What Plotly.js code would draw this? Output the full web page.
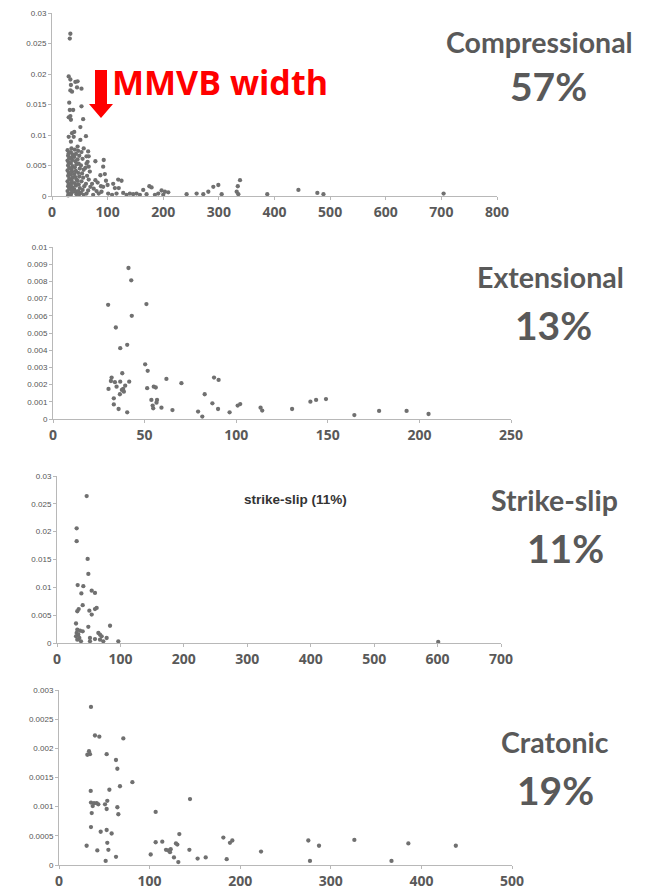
<!DOCTYPE html>
<html>
<head>
<meta charset="utf-8">
<script src="https://cdn.plot.ly/plotly-3.0.1.min.js"></script>
<style>
html,body{margin:0;padding:0;background:#fff;}
#chart{width:648px;height:889px;}
</style>
</head>
<body>
<div id="chart"></div>
<script>
// ---------- DATA ----------
// Compressional (57%)
const compX = [33,32,30,33,42,46,34,45,53,33,36,31,53,32,38,33,30,34,56,51,40,36,30,39,61,51,34,46,
  28,30,29,31,28,30,29,31,28,30,29,31,28,30,29,31,28,30,29,
  35,34,37,35,36,34,37,35,36,34,37,35,36,34,37,35,36,34,
  41,43,40,42,44,41,43,40,42,44,41,43,40,42,44,
  47,49,46,48,50,47,49,46,48,50,47,49,
  53,55,52,57,54,56,53,58,55,52,57,
  62,64,60,68,63,66,61,69,65,62,
  57,65,66,78,93,62,66,87,95,78,72,75,80,84,74,88,82,
  92,97,100,92,110,119,125,113,89,101,116,128,140,152,164,175,179,191,197,203,209,242,260,272,281,290,299,305,334,338,332,335,
  120,108,134,146,158,170,185,200,
  387,443,477,488,704];
const compY = [0.0266,0.0258,0.0196,0.0191,0.0187,0.0188,0.0182,0.0178,0.0176,0.0173,0.0171,0.0153,0.0147,0.0141,0.0141,0.0131,0.0129,0.0125,0.0126,0.0113,0.0105,0.0103,0.0097,0.0097,0.0098,0.0092,0.0089,0.0081,
  0.0075,0.0070,0.0066,0.0062,0.0058,0.0055,0.0050,0.0046,0.0042,0.0038,0.0033,0.0028,0.0024,0.0020,0.0016,0.0012,0.0008,0.0004,0.0001,
  0.0078,0.0072,0.0068,0.0063,0.0059,0.0054,0.0049,0.0044,0.0040,0.0035,0.0030,0.0026,0.0022,0.0018,0.0014,0.0010,0.0006,0.0002,
  0.0076,0.0069,0.0064,0.0057,0.0052,0.0047,0.0041,0.0036,0.0031,0.0027,0.0021,0.0017,0.0011,0.0007,0.0003,
  0.0074,0.0066,0.0060,0.0053,0.0045,0.0038,0.0032,0.0025,0.0019,0.0013,0.0008,0.0003,
  0.0072,0.0061,0.0050,0.0043,0.0037,0.0030,0.0024,0.0016,0.0010,0.0005,0.0002,
  0.0065,0.0056,0.0046,0.0040,0.0033,0.0027,0.0020,0.0015,0.0009,0.0004,
  0.0078,0.0073,0.0065,0.0057,0.0059,0.0053,0.0048,0.0034,0.0036,0.0026,0.0020,0.0012,0.0008,0.0004,0.0002,0.0016,0.0022,
  0.0048,0.0025,0.0018,0.0015,0.0020,0.0027,0.0025,0.0013,0.0007,0.0004,0.0004,0.0005,0.0004,0.0004,0.0010,0.0016,0.0014,0.0004,0.0009,0.0007,0.0006,0.0003,0.0004,0.0003,0.0007,0.0015,0.0018,0.0003,0.0016,0.0026,0.0007,0.0003,
  0.0013,0.0002,0.0002,0.0003,0.0002,0.0003,0.0002,0.0002,
  0.0003,0.0010,0.0005,0.0003,0.0004];

// Extensional (13%)
const extX = [30.1,41.2,42.7,43.0,34.3,51.0,40.5,36.7,50.3,51.7,37.8,32,31.6,33.8,36.7,41.6,30.3,34.7,37.6,38.7,36.5,38.3,39.4,33.2,33.2,35.8,40.5,
  51.4,55,56.1,61.9,70.1,53.7,56.8,56.5,54.4,54.7,59.2,65.2,79.2,81.5,82.8,87,87.9,90.4,90.1,96.4,100.8,102.2,113.3,114.2,130.5,140.5,143.6,149,164.5,178,193,205];
const extY = [0.00664,0.00878,0.00806,0.0060,0.00532,0.00668,0.00431,0.00412,0.00318,0.0028,0.00266,0.00241,0.00221,0.00214,0.00217,0.00217,0.00175,0.00188,0.00169,0.00159,0.00144,0.00175,0.00194,0.0012,0.00085,0.00058,0.00039,
  0.00179,0.00188,0.00183,0.00233,0.00208,0.00111,0.00111,0.00095,0.00078,0.00062,0.00066,0.00052,0.00043,0.00014,0.00144,0.00091,0.00241,0.00227,0.00058,0.00039,0.00078,0.00087,0.00066,0.00049,0.00058,0.00101,0.00111,0.00116,0.00023,0.00047,0.00047,0.00029];

// Strike-slip (11%)
const ssX = [46.8,31,31,48.3,49.4,32.6,41.5,38.4,54.7,59.9,40.5,34.2,32,51,54.7,59.9,62.5,30,49.4,83.6,32,36.3,40.5,31,33.6,30,35.2,32,37.8,52,52,59.9,65.2,67.8,70.4,73,78.3,96.7,67.8,601];
const ssY = [0.0264,0.0206,0.0183,0.0151,0.0124,0.0104,0.0102,0.0089,0.0094,0.009,0.0068,0.0061,0.0057,0.0058,0.0051,0.0061,0.0063,0.0035,0.0029,0.0031,0.0024,0.0022,0.0021,0.0018,0.0015,0.0012,0.0009,0.0006,0.0003,0.0009,0.0003,0.0007,0.0018,0.0015,0.0012,0.0003,0.0009,0.0003,0.0006,0.0002];

// Cratonic (19%)
const cratX = [35.3,39.7,44.5,71,33.1,31.3,34.2,52.6,62.9,64.4,67.3,81,35,55.6,35.3,38.6,41.6,43.4,37.2,50.8,53.3,52.6,64.4,65.5,36.1,35.3,46,52.6,58.1,30.5,42.3,53.3,54.5,62.9,51.5,
  106.7,101.2,106.7,114,118.1,120.7,123.3,122.5,126.9,129.1,130.6,132.8,131.7,144.6,143.9,153,161.9,181.4,185.1,188.7,191.3,223,275.2,277,287,326,367,385.6,438];
const cratY = [0.00271,0.00222,0.0022,0.00217,0.00195,0.00189,0.0019,0.0019,0.0018,0.00165,0.00135,0.00142,0.00127,0.00129,0.00107,0.00106,0.00106,0.00104,0.00101,0.00104,0.0011,0.00096,0.00099,0.00087,0.00089,0.00065,0.00057,0.0006,0.00054,0.00033,0.00025,0.00038,0.00026,0.00014,0.00007,
  0.00091,0.00018,0.00039,0.0004,0.00026,0.00025,0.00027,0.00022,0.00013,0.00037,0.00035,0.00053,0.00005,0.00113,0.00026,0.00011,0.00013,0.00047,0.0001,0.00038,0.00042,0.00023,0.00042,0.00007,0.00033,0.00043,0.00007,0.00037,0.00033];

const panelNames = ["Compressional","Extensional","Strike-slip","Cratonic"];
const panelPercents = ["57%","13%","11%","19%"];
const xMax = [800,250,700,500];
const xStep = [100,50,100,100];
const yMax = [0.03,0.01,0.03,0.003];
const yStep = [0.005,0.001,0.005,0.0005];
const yFormat = [".3~f",".3~f",".3~f",".4~f"];
const arrowLabel = "MMVB width";
const innerLabel = "strike-slip (11%)";

// ---------- LAYOUT ----------
const W = 648, H = 889;
const PX = x => x / W;
const PY = y => 1 - y / H;

// pixel frames of the four plot areas: [left, right, bottom(y=0), top]
const frames = [[52,497,196,13],[53,511,419,247],[57,501,643,476],[59,512,865,690]];
const seriesX = [compX, extX, ssX, cratX];
const seriesY = [compY, extY, ssY, cratY];

const axisCol = '#b8b8b8';
const dotCol = '#707070';
const textCol = '#595959';

const data = [];
const layout = {
  width: W, height: H,
  margin: {l:0, r:0, t:0, b:0},
  paper_bgcolor: '#ffffff', plot_bgcolor: 'rgba(0,0,0,0)',
  showlegend: false,
  annotations: [], shapes: []
};

for (let i = 0; i < 4; i++) {
  const n = i === 0 ? '' : String(i + 1);
  const f = frames[i];
  data.push({
    type: 'scatter', mode: 'markers',
    x: seriesX[i], y: seriesY[i],
    xaxis: 'x' + n, yaxis: 'y' + n,
    marker: {size: 4.3, color: dotCol},
    cliponaxis: false, hoverinfo: 'x+y'
  });
  layout['xaxis' + n] = {
    domain: [PX(f[0]), PX(f[1])], anchor: 'y' + n,
    range: [0, xMax[i]], tickmode: 'linear', tick0: 0, dtick: xStep[i],
    showgrid: false, zeroline: false, showline: true, linecolor: axisCol, linewidth: 1,
    ticks: 'outside', ticklen: 3, tickcolor: axisCol,
    tickfont: {family: 'Open Sans, sans-serif', size: 14, color: textCol, weight: 'bold'}
  };
  layout['yaxis' + n] = {
    domain: [PY(f[2]), PY(f[3])], anchor: 'x' + n,
    range: [0, yMax[i]], tickmode: 'linear', tick0: 0, dtick: yStep[i], tickformat: yFormat[i],
    showgrid: false, zeroline: false, showline: true, linecolor: axisCol, linewidth: 1,
    ticks: 'outside', ticklen: 3, tickcolor: axisCol,
    tickfont: {family: 'Arial, Liberation Sans, sans-serif', size: 8, color: '#555555'}
  };
}

// right side labels: [name center x, name center y, pct center x, pct center y]
const labelPos = [[539,42,548,86],[550,277,553,325],[554,500,565,548],[555,742,555,790]];
for (let i = 0; i < 4; i++) {
  const p = labelPos[i];
  layout.annotations.push({
    xref: 'paper', yref: 'paper', x: PX(p[0]), y: PY(p[1]), xanchor: 'center', yanchor: 'middle',
    text: panelNames[i], showarrow: false,
    font: {family: 'Lato, Open Sans, sans-serif', size: 28.5, color: textCol, weight: 'bold'}
  });
  layout.annotations.push({
    xref: 'paper', yref: 'paper', x: PX(p[2]), y: PY(p[3]), xanchor: 'center', yanchor: 'middle',
    text: panelPercents[i], showarrow: false,
    font: {family: 'Lato, Open Sans, sans-serif', size: 39, color: textCol, weight: 'bold'}
  });
}

// red label + arrow
layout.annotations.push({
  xref: 'paper', yref: 'paper', x: PX(110), y: PY(82), xanchor: 'left', yanchor: 'middle',
  text: arrowLabel, showarrow: false,
  font: {family: 'Open Sans, sans-serif', size: 34, color: '#ff0000', weight: 'bold'}
});
const arrowPts = [[95,70],[107,70],[107,104],[113,104],[101,118],[89,104],[95,104]];
layout.shapes.push({
  type: 'path', xref: 'paper', yref: 'paper',
  path: 'M' + arrowPts.map(p => PX(p[0]).toFixed(5) + ',' + PY(p[1]).toFixed(5)).join(' L') + ' Z',
  fillcolor: '#ff0000', line: {width: 0}
});

// inner label of the strike-slip panel
layout.annotations.push({
  xref: 'paper', yref: 'paper', x: PX(295), y: PY(499), xanchor: 'center', yanchor: 'middle',
  text: innerLabel, showarrow: false,
  font: {family: 'Arial, Liberation Sans, sans-serif', size: 13.5, color: '#333333', weight: 'bold'}
});

Plotly.newPlot('chart', data, layout, {displayModeBar: false, staticPlot: true});
</script>
</body>
</html>
